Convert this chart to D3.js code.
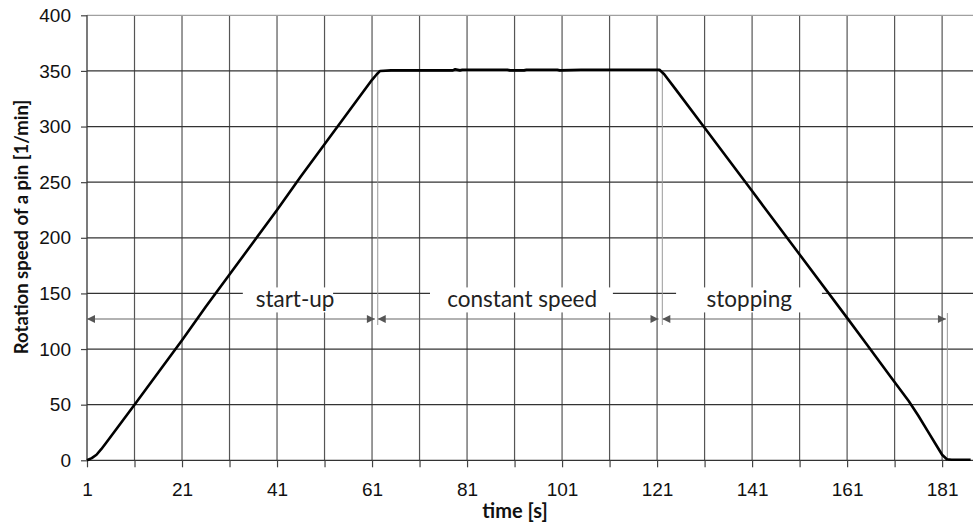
<!DOCTYPE html>
<html>
<head>
<meta charset="utf-8">
<script src="https://cdn.jsdelivr.net/npm/d3@7"></script>
<style>
  html, body { margin: 0; padding: 0; background: #fff; }
  svg { display: block; }
</style>
</head>
<body>
<svg id="chart" width="975" height="524"></svg>
<script>
// ---- data ----
const timeS = [1, 2, 3, 4, 5, 7, 9, 11, 16, 21, 26, 31, 36, 41, 46, 51, 56, 61, 62, 62.7, 65, 70, 75, 78, 78.5, 79.5, 80, 85, 89.5, 90, 93, 93.5, 95, 100, 100.5, 105, 110, 115, 120, 121.5, 122.5, 125, 131, 141, 151, 161, 165, 170, 174, 176, 178, 180, 181, 182, 183, 185, 187];
const speed = [0, 2, 5, 10, 15.5, 27, 38.5, 50, 79, 108, 138, 167, 196, 225, 255, 284, 313, 342, 347, 350, 350.5, 350.5, 350.5, 350.5, 351.5, 350.5, 351, 351, 351, 350.5, 350.5, 351, 351, 351, 350.5, 351, 351, 351, 351, 351, 347, 333, 299, 242, 185, 128, 105, 76, 53, 40, 26, 12, 5, 1, 0.5, 0.5, 0.5];

const xGridTicks = d3.range(1, 182, 10);          // 1, 11, ..., 181
const xLabelTicks = d3.range(1, 182, 20);         // 1, 21, ..., 181
const yTicks = [0, 50, 100, 150, 200, 250, 300, 350, 400];

const phaseLabels = ["start-up", "constant speed", "stopping"];
const phaseStart  = [1, 62.2, 122.1];     // arrow start (s)
const phaseEnd    = [61.6, 121.3, 181.8]; // arrow end (s)
const phaseLine   = [62.2, 122.1, 182.1]; // thin vertical marker lines (s)
const labelCenter = [44.8, 92.6, 140.4];  // label centre (s)
const boxFrom     = [33.8, 73.2, 125.0];  // label box extent (s)
const boxTo       = [52.8, 111.7, 155.7];
const arrowLevel  = 127;

// ---- layout ----
const W = 975, H = 524;
const m = { left: 87, right: 2, top: 15.3, bottom: 63.7 };
const x = d3.scaleLinear().domain([1, 187.5]).range([m.left, W - m.right]);
const y = d3.scaleLinear().domain([0, 400]).range([H - m.bottom, m.top]);

const svg = d3.select("#chart");
const tickFont = "'Liberation Sans', Arial, sans-serif";
const titleFont = "Lato, 'Open Sans', sans-serif";

// gridlines
const gGrid = svg.append("g");
gGrid.selectAll("line.v").data(xGridTicks.slice(1)).join("line")
  .attr("x1", d => x(d)).attr("x2", d => x(d))
  .attr("y1", y(400)).attr("y2", y(0))
  .attr("stroke", "#555").attr("stroke-width", 1.2);
gGrid.selectAll("line.h").data(yTicks.slice(1)).join("line")
  .attr("x1", x(1)).attr("x2", W - m.right)
  .attr("y1", d => y(d)).attr("y2", d => y(d))
  .attr("stroke", d => d === 400 ? "#a0a0a0" : "#333").attr("stroke-width", 1.3);

// axes
const xAxis = d3.axisBottom(x).tickValues(xGridTicks).tickSize(7).tickFormat(d => xLabelTicks.includes(d) ? d : "");
const gx = svg.append("g").attr("transform", `translate(0,${y(0)})`).call(xAxis);
gx.select(".domain").attr("d", `M${x(1)},0H${W - m.right}`).attr("stroke", "#333").attr("stroke-width", 1.3);
gx.selectAll(".tick line").attr("stroke", "#444").attr("stroke-width", 1.2);
gx.selectAll(".tick text").attr("font-family", tickFont).attr("font-size", 19).attr("fill", "#111").attr("dy", "0.9em").attr("y", 19);

const yAxis = d3.axisLeft(y).tickValues(yTicks).tickSize(6).tickPadding(10);
const gy = svg.append("g").attr("transform", `translate(${x(1)},0)`).call(yAxis);
gy.select(".domain").attr("d", `M0,${y(0)}V${y(400)}`).attr("stroke", "#333").attr("stroke-width", 1.3);
gy.selectAll(".tick line").attr("stroke", "#444").attr("stroke-width", 1.2);
gy.selectAll(".tick text").attr("font-family", tickFont).attr("font-size", 19).attr("fill", "#111");

// phase labels with white boxes
const gLab = svg.append("g");
phaseLabels.forEach((lab, i) => {
  gLab.append("rect")
    .attr("x", x(boxFrom[i])).attr("y", y(150) - 6)
    .attr("width", x(boxTo[i]) - x(boxFrom[i])).attr("height", 25)
    .attr("fill", "#fff");
  gLab.append("text").text(lab)
    .attr("x", x(labelCenter[i])).attr("y", y(arrowLevel) - 12)
    .attr("text-anchor", "middle")
    .attr("font-family", titleFont).attr("font-size", 22.5).attr("fill", "#222");
});

// arrows
const defs = svg.append("defs");
defs.append("marker").attr("id", "arr").attr("viewBox", "0 0 10 10")
  .attr("refX", 10).attr("refY", 5).attr("markerWidth", 10).attr("markerHeight", 8)
  .attr("markerUnits", "userSpaceOnUse").attr("orient", "auto-start-reverse")
  .append("path").attr("d", "M0,0L10,5L0,10Z").attr("fill", "#555");

const gAnn = svg.append("g");
phaseLabels.forEach((lab, i) => {
  gAnn.append("line")
    .attr("x1", x(phaseStart[i])).attr("x2", x(phaseEnd[i]))
    .attr("y1", y(arrowLevel)).attr("y2", y(arrowLevel))
    .attr("stroke", "#666").attr("stroke-width", 1.2)
    .attr("marker-start", "url(#arr)").attr("marker-end", "url(#arr)");
});
// thin vertical marker lines
gAnn.append("line").attr("x1", x(phaseLine[0])).attr("x2", x(phaseLine[0]))
  .attr("y1", y(350)).attr("y2", y(arrowLevel) + 6).attr("stroke", "#999").attr("stroke-width", 1);
gAnn.append("line").attr("x1", x(phaseLine[1])).attr("x2", x(phaseLine[1]))
  .attr("y1", y(350)).attr("y2", y(arrowLevel) + 6).attr("stroke", "#999").attr("stroke-width", 1);
gAnn.append("line").attr("x1", x(phaseLine[2])).attr("x2", x(phaseLine[2]))
  .attr("y1", y(arrowLevel) - 6).attr("y2", y(0)).attr("stroke", "#999").attr("stroke-width", 1);

// curve
const pts = timeS.map((t, i) => [t, speed[i]]);
svg.append("path").datum(pts)
  .attr("d", d3.line().x(d => x(d[0])).y(d => y(d[1])))
  .attr("fill", "none").attr("stroke", "#000").attr("stroke-width", 2.6)
  .attr("stroke-linejoin", "round");

// axis titles
svg.append("text").text("time [s]")
  .attr("x", 515).attr("y", 518).attr("text-anchor", "middle")
  .attr("font-family", titleFont).attr("font-weight", "bold").attr("font-size", 20).attr("fill", "#111");
svg.append("text").text("Rotation speed of a pin [1/min]")
  .attr("transform", `translate(28,227) rotate(-90)`).attr("text-anchor", "middle")
  .attr("font-family", titleFont).attr("font-weight", "bold").attr("font-size", 18.5).attr("fill", "#111");
</script>
</body>
</html>
